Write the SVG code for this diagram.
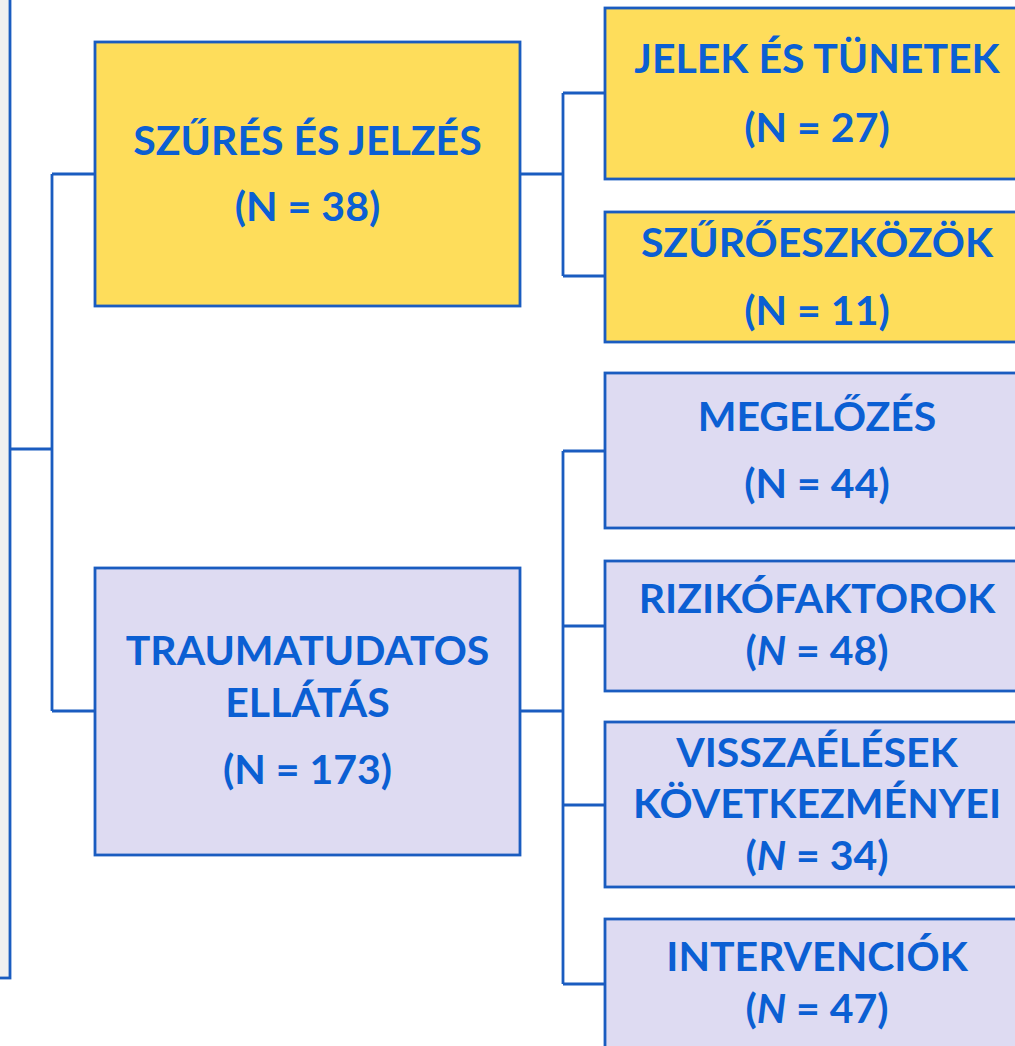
<svg xmlns="http://www.w3.org/2000/svg" width="1015" height="1046" viewBox="0 0 1015 1046">
<style>
.box{stroke:#1A5CC0;stroke-width:2.8}
.y{fill:#FEDD5B}
.p{fill:#DEDBF2}
.g{fill:#F0F0F0}
.c{fill:none;stroke:#1A5CC0;stroke-width:2.8}
text{font-family:Lato,"Open Sans","Liberation Sans",sans-serif;font-weight:bold;font-size:41px;fill:#0B5FD3;text-anchor:middle}
</style>
<rect width="1015" height="1046" fill="#FFFFFF"/>
<g id="root"><rect class="box g" x="-20" y="-20" width="30" height="998"/></g>
<g id="connectors">
<path class="c" d="M10 449H52M52 174V711M52 174H95M52 711H95"/>
<path class="c" d="M520 174H563M563 93V276M563 93H605M563 276H605"/>
<path class="c" d="M520 711H563M563 451V984M563 451H605M563 626H605M563 805H605M563 984H605"/>
</g>
<g id="szures"><rect class="box y" x="95" y="42" width="425" height="264"/>
<text x="307.5" y="155">SZŰRÉS ÉS JELZÉS</text><text x="307.5" y="221">(N = 38)</text></g>
<g id="trauma"><rect class="box p" x="95" y="568" width="425" height="287"/>
<text x="307.5" y="665">TRAUMATUDATOS</text><text x="307.5" y="717">ELLÁTÁS</text><text x="307.5" y="784">(N = 173)</text></g>
<g id="jelek"><rect class="box y" x="605" y="8" width="430" height="171"/>
<text x="817" y="73">JELEK ÉS TÜNETEK</text><text x="817" y="142">(N = 27)</text></g>
<g id="szuroeszkozok"><rect class="box y" x="605" y="212" width="430" height="130"/>
<text x="817" y="257">SZŰRŐESZKÖZÖK</text><text x="817" y="325">(N = 11)</text></g>
<g id="megelozes"><rect class="box p" x="605" y="373" width="430" height="155"/>
<text x="817" y="431">MEGELŐZÉS</text><text x="817" y="498">(N = 44)</text></g>
<g id="rizikofaktorok"><rect class="box p" x="605" y="561" width="430" height="130"/>
<text x="817" y="613">RIZIKÓFAKTOROK</text><text x="817" y="665">(<tspan font-style="italic">N</tspan> = 48)</text></g>
<g id="visszaelesek"><rect class="box p" x="605" y="722" width="430" height="165"/>
<text x="817" y="767">VISSZAÉLÉSEK</text><text x="817" y="818">KÖVETKEZMÉNYEI</text><text x="817" y="870">(<tspan font-style="italic">N</tspan> = 34)</text></g>
<g id="intervenciok"><rect class="box p" x="605" y="919" width="430" height="150"/>
<text x="817" y="971">INTERVENCIÓK</text><text x="817" y="1023">(<tspan font-style="italic">N</tspan> = 47)</text></g>
</svg>
